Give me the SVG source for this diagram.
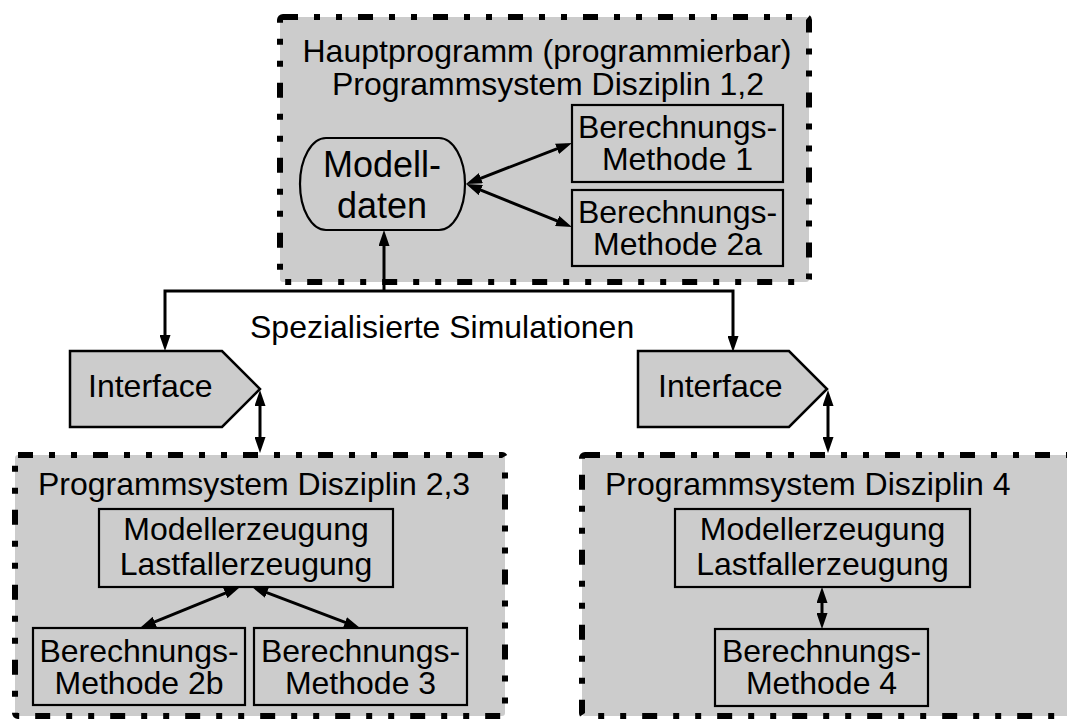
<svg xmlns="http://www.w3.org/2000/svg" width="1067" height="720" viewBox="0 0 1067 720">
  <style>
    text { font-family: "Liberation Sans", Arial, sans-serif; font-size: 32px; fill: #000; }
    .mid { text-anchor: middle; }
    .big { font-size: 36px; }
    .container { fill: #cccccc; stroke: #000; stroke-width: 6; stroke-dasharray: 15 16 6 16 6 16; }
    .box { fill: #cccccc; stroke: #000; stroke-width: 2.2; }
    .iface { fill: #cccccc; stroke: #000; stroke-width: 2.5; stroke-linejoin: miter; }
    .conn { fill: none; stroke: #000; stroke-width: 3; }
  </style>
  <defs>
    <marker id="head" markerUnits="userSpaceOnUse" markerWidth="16" markerHeight="11" refX="10" refY="5.5" orient="auto-start-reverse">
      <path d="M0,0 L16,5.5 L0,11 Z" fill="#000"/>
    </marker>
  </defs>

  <rect width="1067" height="720" fill="#fff"/>

  <!-- main program container -->
  <g id="hauptprogramm">
    <rect class="container" x="280" y="17" width="529" height="265" rx="3"/>
    <text class="mid" x="547" y="62">Hauptprogramm (programmierbar)</text>
    <text class="mid" x="548" y="95">Programmsystem Disziplin 1,2</text>
  </g>

  <g id="modelldaten">
    <path class="box" d="M326,138 H439 A26,46 0 0 1 439,230 H326 A26,46 0 0 1 326,138 Z"/>
    <text class="mid big" x="382" y="177">Modell-</text>
    <text class="mid big" x="382" y="218">daten</text>
  </g>

  <g id="methode1">
    <rect class="box" x="572" y="105" width="211" height="77"/>
    <text class="mid" x="677.5" y="138">Berechnungs-</text>
    <text class="mid" x="677.5" y="170">Methode 1</text>
  </g>

  <g id="methode2a">
    <rect class="box" x="572" y="190" width="211" height="76"/>
    <text class="mid" x="677.5" y="223">Berechnungs-</text>
    <text class="mid" x="677.5" y="255">Methode 2a</text>
  </g>

  <!-- interfaces -->
  <g id="interface-links">
    <polygon class="iface" points="70,351 222,351 260,389 222,427 70,427"/>
    <text x="88" y="397">Interface</text>
  </g>

  <g id="interface-rechts">
    <polygon class="iface" points="638,351 789,351 827,389 789,427 638,427"/>
    <text x="658" y="397">Interface</text>
  </g>

  <g id="label-simulationen">
    <text x="250" y="338">Spezialisierte Simulationen</text>
  </g>

  <!-- discipline 2,3 -->
  <g id="disziplin23">
    <rect class="container" x="15" y="455" width="490" height="261" rx="3"/>
    <text x="38" y="495">Programmsystem Disziplin 2,3</text>
  </g>

  <g id="erzeugung23">
    <rect class="box" x="99" y="509" width="294" height="78"/>
    <text class="mid" x="246" y="540">Modellerzeugung</text>
    <text class="mid" x="246" y="575">Lastfallerzeugung</text>
  </g>

  <g id="methode2b">
    <rect class="box" x="33" y="628" width="212" height="77"/>
    <text class="mid" x="139" y="662">Berechnungs-</text>
    <text class="mid" x="139" y="694">Methode 2b</text>
  </g>

  <g id="methode3">
    <rect class="box" x="254" y="628" width="213" height="77"/>
    <text class="mid" x="360.5" y="662">Berechnungs-</text>
    <text class="mid" x="360.5" y="694">Methode 3</text>
  </g>

  <!-- discipline 4 -->
  <g id="disziplin4">
    <rect class="container" x="582" y="455" width="510" height="261" rx="3"/>
    <text x="605" y="495">Programmsystem Disziplin 4</text>
  </g>

  <g id="erzeugung4">
    <rect class="box" x="675" y="509" width="295" height="78"/>
    <text class="mid" x="822.5" y="540">Modellerzeugung</text>
    <text class="mid" x="822.5" y="575">Lastfallerzeugung</text>
  </g>

  <g id="methode4">
    <rect class="box" x="715" y="629" width="213" height="77"/>
    <text class="mid" x="821.5" y="662">Berechnungs-</text>
    <text class="mid" x="821.5" y="694">Methode 4</text>
  </g>

  <!-- connectors -->
  <g id="connectors">
    <path class="conn" d="M384,291 V236" marker-end="url(#head)"/>
    <path class="conn" d="M165,345 V291 H733 V346" marker-start="url(#head)" marker-end="url(#head)"/>
    <path class="conn" d="M471.6,181.8 L566.4,145.2" marker-start="url(#head)" marker-end="url(#head)"/>
    <path class="conn" d="M471.6,186.3 L566.4,224.7" marker-start="url(#head)" marker-end="url(#head)"/>
    <path class="conn" d="M260,396 V447" marker-start="url(#head)" marker-end="url(#head)"/>
    <path class="conn" d="M828,396 V447" marker-start="url(#head)" marker-end="url(#head)"/>
    <path class="conn" d="M234.5,589.3 L145.5,625.7" marker-start="url(#head)" marker-end="url(#head)"/>
    <path class="conn" d="M257.6,589.1 L354.4,625.9" marker-start="url(#head)" marker-end="url(#head)"/>
    <path class="conn" d="M822,593 V623" marker-start="url(#head)" marker-end="url(#head)"/>
  </g>
</svg>
